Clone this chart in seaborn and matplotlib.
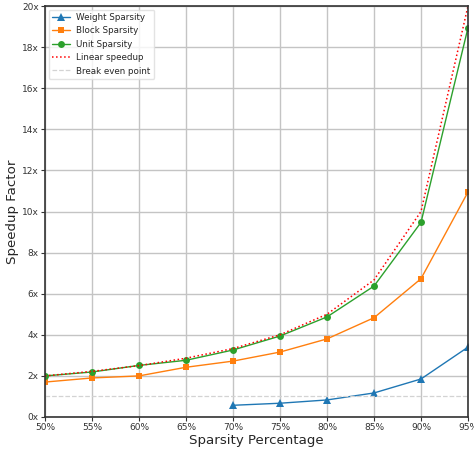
import numpy as np
import pandas as pd
import matplotlib
matplotlib.use("Agg")
import matplotlib.pyplot as plt
import seaborn as sns

sparsity = [50, 55, 60, 65, 70, 75, 80, 85, 90, 95]
weight_x = [70, 75, 80, 85, 90, 95]
weight_speedup = [0.57, 0.67, 0.83, 1.17, 1.85, 3.4]
block_speedup = [1.70, 1.90, 2.00, 2.42, 2.72, 3.16, 3.80, 4.83, 6.73, 10.95]
unit_speedup = [2.00, 2.19, 2.51, 2.76, 3.26, 3.94, 4.87, 6.37, 9.47, 18.94]
linear_speedup = [2.0, 2.22, 2.5, 2.86, 3.33, 4.0, 5.0, 6.67, 10.0, 20.0]
break_even = [1.0] * len(sparsity)
x_ticks = [50, 55, 60, 65, 70, 75, 80, 85, 90, 95]
y_ticks = [0, 2, 4, 6, 8, 10, 12, 14, 16, 18, 20]

sns.set_style("whitegrid")
plt.rcParams['font.family'] = ['DejaVu Sans']

fig = plt.figure(figsize=(4.74, 4.53), dpi=100)
ax = fig.add_axes([45/474, 1 - 417/453, 423/474, 411/453])

pal = sns.color_palette("tab10")
sns.lineplot(x=weight_x, y=weight_speedup, ax=ax, color=pal[0], marker='^',
             markersize=5.5, markeredgewidth=0, lw=1.0, label='Weight Sparsity')
sns.lineplot(x=sparsity, y=block_speedup, ax=ax, color=pal[1], marker='s',
             markersize=5, markeredgewidth=0, lw=1.0, label='Block Sparsity')
sns.lineplot(x=sparsity, y=unit_speedup, ax=ax, color=pal[2], marker='o',
             markersize=5, markeredgewidth=0, lw=1.0, label='Unit Sparsity')
sns.lineplot(x=sparsity, y=linear_speedup, ax=ax, color='red', ls=':', lw=1.1,
             label='Linear speedup')
sns.lineplot(x=sparsity, y=break_even, ax=ax, color='lightgray', ls='--', lw=0.9,
             label='Break even point')

ax.set_xlim(50, 95)
ax.set_ylim(0, 20)
ax.set_xticks(x_ticks)
ax.set_xticklabels([f"{v}%" for v in x_ticks])
ax.set_yticks(y_ticks)
ax.set_yticklabels([f"{v}x" for v in y_ticks])
ax.tick_params(axis='both', labelsize=6.5, length=3, width=0.8, pad=1.5,
               direction='out', bottom=True, left=True, colors='#333333')
ax.grid(True, color='#c4c4c4', lw=1.0)
for s in ax.spines.values():
    s.set_color('#333333')
    s.set_linewidth(1.2)
ax.set_xlabel('Sparsity Percentage', fontsize=9.6, labelpad=1)
ax.set_ylabel('Speedup Factor', fontsize=9.6, labelpad=2)
leg = ax.legend(loc='upper left', fontsize=6.3, frameon=True, framealpha=0.8,
                borderaxespad=0.4)
leg.get_frame().set_edgecolor('#dddddd')

fig.savefig('out.png', dpi=100)
